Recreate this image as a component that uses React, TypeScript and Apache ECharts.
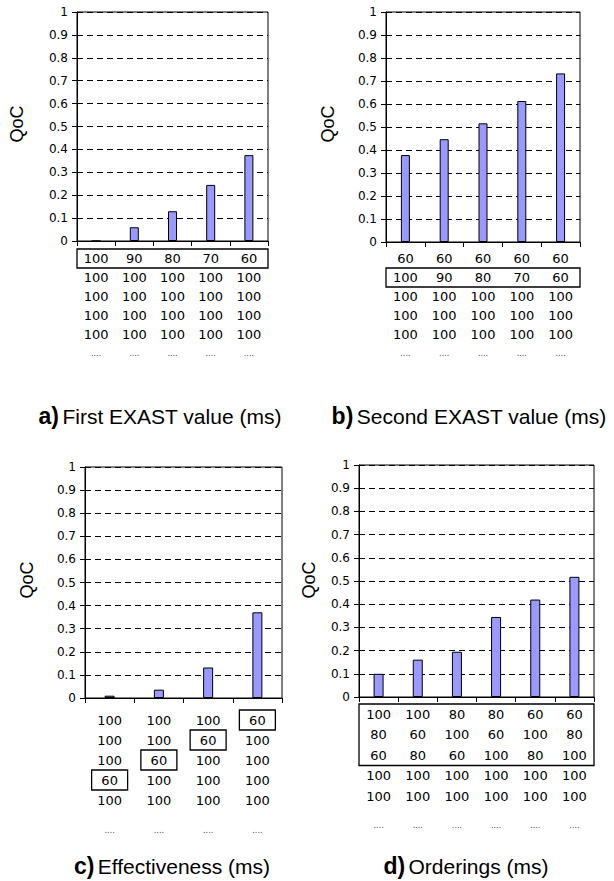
import { useEffect, useRef } from "react";
import * as echarts from "echarts";

// ---------- data ----------
const yTickLabels = ["0", "0.1", "0.2", "0.3", "0.4", "0.5", "0.6", "0.7", "0.8", "0.9", "1"];

const aValues = [0, 0.06, 0.13, 0.245, 0.375];
const aRows = [
  ["100", "90", "80", "70", "60"],
  ["100", "100", "100", "100", "100"],
  ["100", "100", "100", "100", "100"],
  ["100", "100", "100", "100", "100"],
  ["100", "100", "100", "100", "100"],
  ["....", "....", "....", "....", "...."],
];

const bValues = [0.378, 0.447, 0.516, 0.613, 0.733];
const bRows = [
  ["60", "60", "60", "60", "60"],
  ["100", "90", "80", "70", "60"],
  ["100", "100", "100", "100", "100"],
  ["100", "100", "100", "100", "100"],
  ["100", "100", "100", "100", "100"],
  ["....", "....", "....", "....", "...."],
];

const cValues = [0.01, 0.036, 0.132, 0.371];
const cRows = [
  ["100", "100", "100", "60"],
  ["100", "100", "60", "100"],
  ["100", "60", "100", "100"],
  ["60", "100", "100", "100"],
  ["100", "100", "100", "100"],
  ["....", "....", "....", "...."],
];
const cBoxedCells = [
  [3, 0],
  [2, 1],
  [1, 2],
  [0, 3],
]; // [column, row]

const dValues = [0.1, 0.161, 0.195, 0.345, 0.42, 0.518];
const dRows = [
  ["100", "100", "80", "80", "60", "60"],
  ["80", "60", "100", "60", "100", "80"],
  ["60", "80", "60", "100", "80", "100"],
  ["100", "100", "100", "100", "100", "100"],
  ["100", "100", "100", "100", "100", "100"],
  ["....", "....", "....", "....", "....", "...."],
];

const captions = [
  ["a)", "First EXAST value (ms)"],
  ["b)", "Second EXAST value (ms)"],
  ["c)", "Effectiveness (ms)"],
  ["d)", "Orderings (ms)"],
];

const yAxisName = "QoC";

// ---------- layout ----------
const NUM_FONT = "DejaVu Sans";
const TXT_FONT = "Liberation Sans";

const panels = [
  {
    values: aValues, rows: aRows,
    grid: { left: 77, top: 12, width: 191, height: 229 },
    lineH: 19, dotsH: 19, margin: 8, barWidth: 9,
    wideBox: [0, 0], cellBoxes: [] as number[][],
    qoc: [17, 124], caption: [160, 416],
  },
  {
    values: bValues, rows: bRows,
    grid: { left: 386, top: 12, width: 194, height: 230 },
    lineH: 19, dotsH: 19, margin: 7, barWidth: 9,
    wideBox: [1, 1], cellBoxes: [] as number[][],
    qoc: [328, 124], caption: [469, 416],
  },
  {
    values: cValues, rows: cRows,
    grid: { left: 85, top: 467, width: 197, height: 231 },
    lineH: 20, dotsH: 40, margin: 12, barWidth: 10,
    wideBox: null as null | number[], cellBoxes: cBoxedCells,
    qoc: [27, 580], caption: [172, 866],
  },
  {
    values: dValues, rows: dRows,
    grid: { left: 359, top: 465, width: 235, height: 232 },
    lineH: 20.5, dotsH: 38, margin: 7, barWidth: 10,
    wideBox: [0, 2], cellBoxes: [] as number[][],
    qoc: [309, 580], caption: [466, 866],
  },
];

function buildOption() {
  const grid: any[] = [];
  const xAxis: any[] = [];
  const yAxis: any[] = [];
  const series: any[] = [];
  const graphic: any[] = [];

  panels.forEach((p, i) => {
    const n = p.values.length;
    grid.push({
      ...p.grid,
      show: true,
      borderColor: "#000",
      borderWidth: 1,
      backgroundColor: "transparent",
      containLabel: false,
    });
    const categories = Array.from({ length: n }, (_, c) => p.rows.map((r) => r[c]).join("\n"));
    xAxis.push({
      type: "category",
      gridIndex: i,
      data: categories,
      boundaryGap: true,
      axisLine: { show: true, lineStyle: { color: "#000", width: 1 } },
      axisTick: { show: true, length: 5, alignWithLabel: false, lineStyle: { color: "#000" } },
      splitLine: { show: false },
      axisLabel: {
        interval: 0,
        hideOverlap: false,
        margin: p.margin,
        lineHeight: p.lineH,
        formatter: (v: string) =>
          v
            .split("\n")
            .map((s) => (s === "...." ? `{d|${s}}` : `{n|${s}}`))
            .join("\n"),
        rich: {
          n: { fontFamily: NUM_FONT, fontSize: 13, color: "#000", lineHeight: p.lineH },
          d: { fontFamily: NUM_FONT, fontSize: 8, color: "#444", lineHeight: p.dotsH },
        },
      },
    });
    yAxis.push({
      type: "value",
      gridIndex: i,
      min: 0,
      max: 1,
      interval: 0.1,
      axisLine: { show: true, lineStyle: { color: "#000", width: 1 } },
      axisTick: { show: true, length: 5, lineStyle: { color: "#000" } },
      axisLabel: {
        margin: 9,
        fontFamily: NUM_FONT,
        fontSize: 12,
        color: "#000",
        formatter: (v: number) => yTickLabels[Math.round(v * 10)],
      },
      splitLine: { show: true, lineStyle: { color: "#000", width: 1, type: [6, 4] } },
    });
    series.push({
      type: "bar",
      xAxisIndex: i,
      yAxisIndex: i,
      data: p.values,
      barWidth: p.barWidth,
      itemStyle: { color: "#9999FF", borderColor: "#000", borderWidth: 1 },
      z: 3,
    });

    const axisY = p.grid.top + p.grid.height;
    const tableTop = axisY + p.margin;
    if (p.wideBox) {
      const [r0, r1] = p.wideBox;
      graphic.push({
        type: "rect",
        shape: {
          x: p.grid.left,
          y: tableTop + r0 * p.lineH,
          width: p.grid.width,
          height: (r1 - r0 + 1) * p.lineH,
        },
        style: { fill: "none", stroke: "#000", lineWidth: 1.3 },
        z: 10,
      });
    }
    p.cellBoxes.forEach(([c, r]) => {
      const cx = p.grid.left + (p.grid.width * (c + 0.5)) / n;
      graphic.push({
        type: "rect",
        shape: { x: cx - 18, y: tableTop + r * p.lineH, width: 36, height: p.lineH },
        style: { fill: "none", stroke: "#000", lineWidth: 1.3 },
        z: 10,
      });
    });

    graphic.push({
      type: "text",
      x: p.qoc[0],
      y: p.qoc[1],
      rotation: Math.PI / 2,
      style: {
        text: yAxisName,
        fontFamily: TXT_FONT,
        fontSize: 18,
        fill: "#000",
        align: "center",
        verticalAlign: "middle",
      },
    });
    graphic.push({
      type: "text",
      x: p.caption[0],
      y: p.caption[1],
      style: {
        text: `{b|${captions[i][0]}} {r|${captions[i][1]}}`,
        align: "center",
        verticalAlign: "middle",
        rich: {
          b: { fontFamily: TXT_FONT, fontWeight: "bold", fontSize: 23, fill: "#000" },
          r: { fontFamily: TXT_FONT, fontSize: 21, fill: "#000" },
        },
      },
    });
  });

  return {
    animation: false,
    backgroundColor: "#fff",
    grid,
    xAxis,
    yAxis,
    series,
    graphic,
  };
}

export default function App() {
  const ref = useRef<HTMLDivElement>(null);
  useEffect(() => {
    const chart = echarts.init(ref.current!, null, { renderer: "svg" });
    chart.setOption(buildOption() as any);
    return () => chart.dispose();
  }, []);
  return (
    <div
      ref={ref}
      style={{ position: "absolute", left: 0, top: 0, width: 614, height: 881, background: "#fff" }}
    />
  );
}
